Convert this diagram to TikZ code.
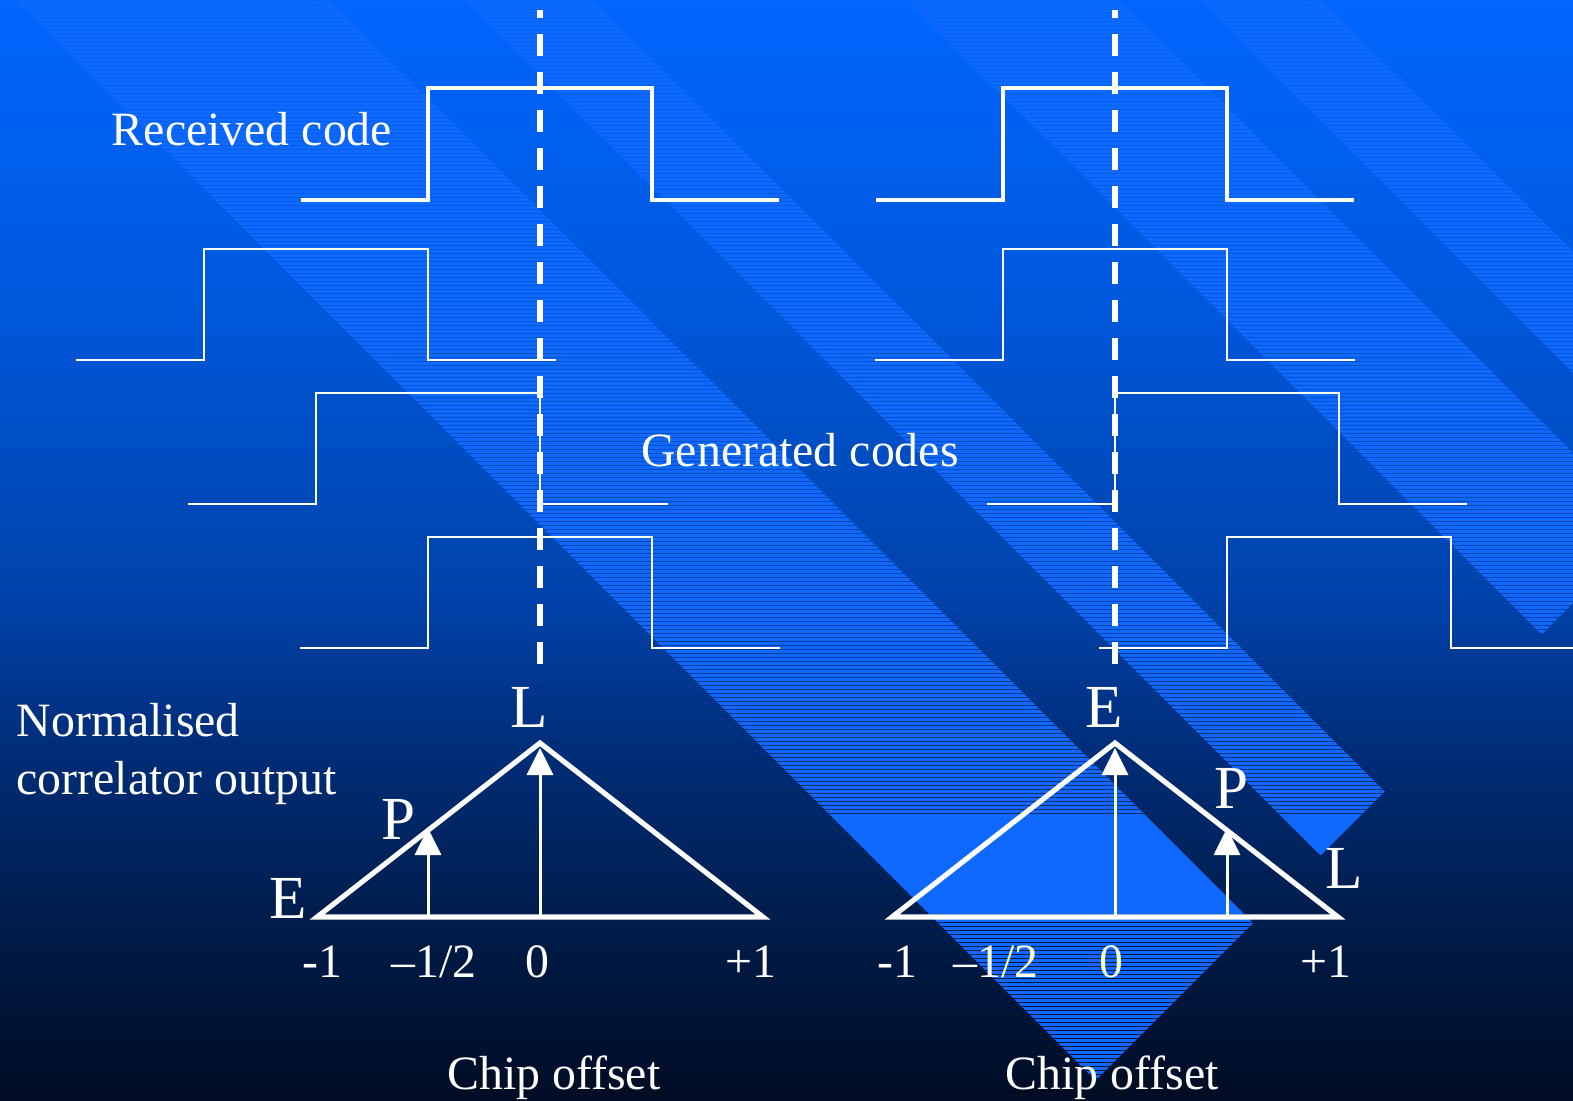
\documentclass[tikz,border=0pt]{standalone}
\usepackage{fontspec}
\setmainfont{Liberation Serif}
\usetikzlibrary{arrows.meta}

\definecolor{bgA}{RGB}{0,102,255}
\definecolor{bgB}{RGB}{0,88,220}
\definecolor{bgD}{RGB}{0,66,170}
\definecolor{bgE}{RGB}{0,45,120}
\definecolor{bgF}{RGB}{0,30,80}
\definecolor{bgG}{RGB}{0,12,35}
\definecolor{bandblue}{RGB}{15,105,255}

% top of the picture at 75bp, bottom at 25bp
\pgfdeclareverticalshading{bgshade}{100bp}{color(0bp)=(bgG); color(25bp)=(bgG);
  color(34.13bp)=(bgF); color(40.94bp)=(bgE); color(47.75bp)=(bgD);
  color(61.38bp)=(bgB); color(75bp)=(bgA); color(100bp)=(bgA)}

\begin{document}
\begin{tikzpicture}[x=0.01cm, y=-0.01cm,
    txt/.style={text=white, inner sep=0pt, font=\fontsize{13.6}{16.5}\selectfont},
    lbl/.style={text=white, inner sep=0pt, anchor=base, font=\fontsize{17.4}{20}\selectfont},
    rxcode/.style={white, line width=1.15pt},
    gencode/.style={white, line width=0.5pt},
    prompt/.style={white, line width=1.7pt, dash pattern=on 0.22cm off 0.16cm, dash phase=0.14cm},
    corr/.style={white, line width=1.45pt},
    tap/.style={white, line width=0.85pt, -{Triangle[width=0.26cm,length=0.27cm]}}]

  \useasboundingbox (0,0) rectangle (1573,1101);
  \fill[shading=bgshade] (0,0) rectangle (1573,1101);

  % diagonal bands
  \begin{scope}
    \clip (15,0) -- (330,0) -- (1253,923) -- (1095.5,1080.5) -- cycle
          (465,0) -- (593,0) -- (1384.5,791.5) -- (1320.5,855.5) -- cycle
          (907,0) -- (1120,0) -- (1648,528) -- (1541.5,634.5) -- cycle
          (1200,0) -- (1322,0) -- (1749,427) -- (1688,488) -- cycle;
    \foreach \y in {0,4,...,1100}
      \draw[bandblue, line width=0.03cm] (0,\y) -- (1573,\y);
  \end{scope}

  % received code
  \foreach \r in {428,1003}
    \draw[rxcode] ({\r-127},200) -- (\r,200) -- (\r,88) -- ({\r+224},88) -- ({\r+224},200) -- ({\r+351},200);

  % generated codes
  \foreach \r/\lo in {204/360, 316/504, 428/648, 1003/360, 1115/504, 1227/648}
    \draw[gencode] ({\r-128},\lo) -- (\r,\lo) -- (\r,{\lo-111}) -- ({\r+224},{\lo-111}) -- ({\r+224},\lo) -- ({\r+352},\lo);

  % prompt lines
  \foreach \c in {540,1115}
    \draw[prompt] (\c,10) -- (\c,664);

  \node[txt, anchor=base] (rxlbl) at (252,146) {Received code};
  \node[txt, anchor=base] (genlbl) at (800,467) {Generated codes};
  \node[txt, anchor=base west, align=left] (normlbl) at (16,795) {Normalised\\correlator output};

  % correlation triangles
  \coordinate (triLa) at (317,917);
  \coordinate (triLb) at (540,743);
  \coordinate (triLc) at (763,917);
  \coordinate (triRa) at (892,917);
  \coordinate (triRb) at (1115,743);
  \coordinate (triRc) at (1338,917);
  \draw[corr] (triLa) -- (triLb) -- (triLc) -- cycle;
  \draw[corr] (triRa) -- (triRb) -- (triRc) -- cycle;

  \coordinate (tapLp0) at (428,917);
  \coordinate (tapLp1) at (428,828);
  \coordinate (tapLl0) at (540,917);
  \coordinate (tapLl1) at (540,748);
  \coordinate (tapRe0) at (1115,917);
  \coordinate (tapRe1) at (1115,748);
  \coordinate (tapRp0) at (1227,917);
  \coordinate (tapRp1) at (1227,828);
  \draw[tap] (tapLp0) -- (tapLp1);
  \draw[tap] (tapLl0) -- (tapLl1);
  \draw[tap] (tapRe0) -- (tapRe1);
  \draw[tap] (tapRp0) -- (tapRp1);

  \node[lbl] (eLeft) at (288,919) {E};
  \node[lbl] (pLeft) at (399,840) {P};
  \node[lbl] (lLeft) at (529,728) {L};
  \node[lbl] (eRight) at (1104,728) {E};
  \node[lbl] (pRight) at (1231,809) {P};
  \node[lbl] (lRight) at (1344,888) {L};

  % chip offset axes
  \foreach \x/\t [count=\i] in {322/{-1}, 434/{–1/2}, 537/{0}, 751/{+1}, 897/{-1}, 996/{–1/2}, 1111/{0}, 1326/{+1}}
    \node[txt, anchor=base] (tick\i) at (\x,977) {\t};

  \node[txt, anchor=base] (chipL) at (554,1089) {Chip offset};
  \node[txt, anchor=base] (chipR) at (1112,1089) {Chip offset};
\end{tikzpicture}
\end{document}
